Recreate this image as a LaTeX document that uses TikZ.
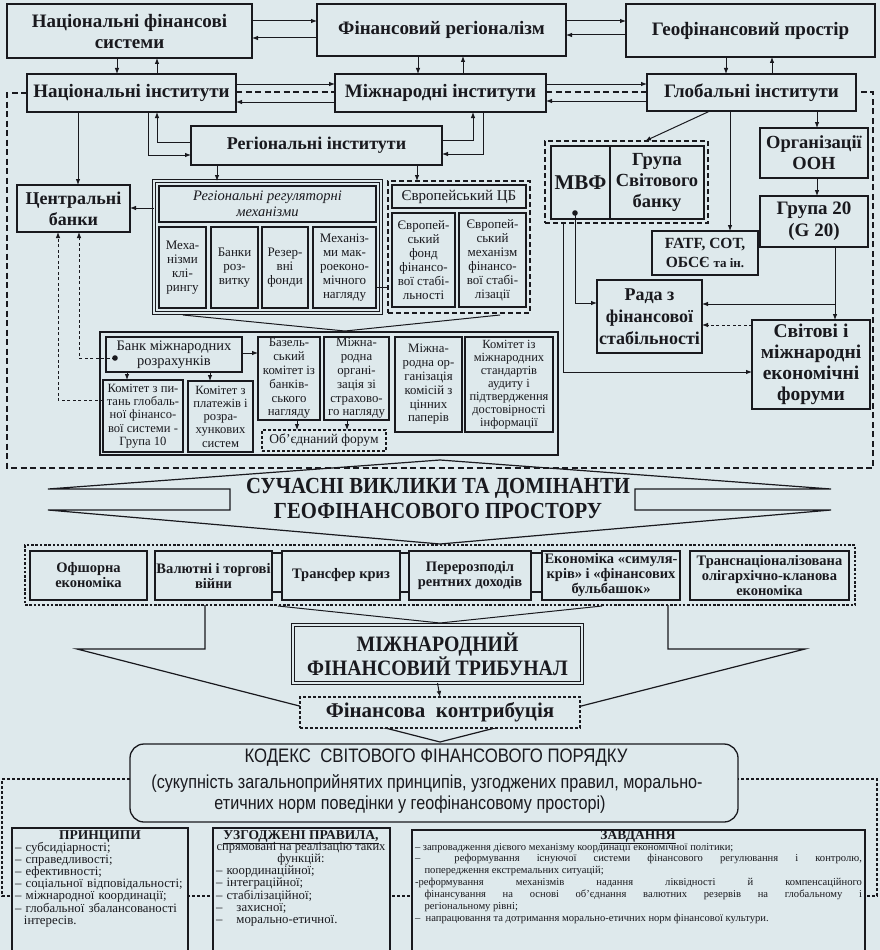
\documentclass[tikz,border=0pt]{standalone}
\usepackage{fontspec}
\setmainfont{Liberation Serif}
\newfontfamily\lsans{Liberation Sans}
\newfontfamily\nsans[FakeStretch=0.86]{Liberation Sans}
\newfontfamily\nserif[FakeStretch=0.9]{Liberation Serif}
\usetikzlibrary{arrows.meta}
\definecolor{bg}{RGB}{222,233,236}
\definecolor{ink}{RGB}{25,25,30}
\newcommand\fs[2]{\fontsize{#1}{#2}\selectfont}
\newcommand\Bx[7]{\node[#6, minimum width={(#4-#2)*1pt}, minimum height={(#5-#3)*1pt}] (#1) at ({(#2+#4)/2},{(#3+#5)/2}) {#7};}
\begin{document}
\begin{tikzpicture}[x=1pt,y=-1pt,
  every node/.style={inner sep=0pt,outer sep=0pt,align=center,text=ink},
  bx/.style={draw=ink,line width=1.4pt,fill=bg},
  h1/.style={bx,font=\bfseries\fs{19}{21}},
  sm/.style={draw=ink,line width=1.1pt,fill=bg,font=\fs{13}{14}},
  dbox/.style={draw=ink,line width=1.2pt,dash pattern=on 5pt off 3pt,fill=bg},
  fbox/.style={draw=ink,line width=1.1pt,dash pattern=on 3pt off 2pt,fill=bg},
  ln/.style={draw=ink,line width=1pt},
  arr/.style={ln,-{Latex[length=6pt,width=4.6pt]}},
  dfr/.style={draw=ink,line width=1.2pt,dash pattern=on 6pt off 3.5pt},
  fdash/.style={dash pattern=on 3pt off 2.5pt},
  sb/.style={draw=ink,line width=1.3pt,fill=bg,font=\bfseries\fs{14.5}{15}},
  lst/.style={anchor=north west,align=left,font=\fs{12.8}{12.2}},
]
\fill[bg] (0,0) rectangle (880,950);
\useasboundingbox (0,0) rectangle (880,950);
\clip (0,0) rectangle (880,950);

% big shapes underneath
\draw[ln] (183,315) -- (345,331) -- (500,315);
\draw[ln,line width=1.2pt] (48,489) -- (440,460) -- (831,489) -- (635,489) -- (635,510) -- (831,510) -- (440,544) -- (48,510) -- (230,510) -- (230,489) -- cycle;
\draw[ln,line width=1.2pt] (205,605) -- (205,649) -- (77,649) -- (440,742) -- (805,649) -- (668,649) -- (668,605);
\draw[ln] (278,606) -- (440,623) -- (602,606);

% top rows
\Bx{nfs}{7}{4}{252}{58}{h1}{Національні фінансові\\системи}
\Bx{fr}{317}{4}{566}{56}{h1}{Фінансовий регіоналізм}
\Bx{gp}{626}{4}{875}{57}{h1}{Геофінансовий простір}
\Bx{ni}{27}{74}{236}{112}{h1}{Національні інститути}
\Bx{mi}{335}{74}{546}{112}{h1}{Міжнародні інститути}
\Bx{gi}{647}{74}{856}{111}{h1}{Глобальні інститути}
\Bx{ri}{191}{126}{442}{165}{bx,font=\bfseries\fs{18}{20}}{Регіональні інститути}
\Bx{cb}{17}{185}{130}{232}{bx,font=\bfseries\fs{18}{21}}{Центральні\\банки}

% regional block
\Bx{rmo}{154}{181}{381}{313}{draw=ink,double=bg,double distance=2.2pt,line width=0.9pt,fill=bg}{}
\Bx{rmt}{159}{186}{376}{222}{sm,font=\itshape\fs{14.5}{15.5}}{Регіональні регуляторні\\механізми}
\Bx{rm1}{159}{227}{206}{308}{sm}{Меха-\\нізми\\клі-\\рингу}
\Bx{rm2}{211}{227}{258}{308}{sm}{Банки\\роз-\\витку}
\Bx{rm3}{262}{227}{308}{308}{sm}{Резер-\\вні\\фонди}
\Bx{rm4}{313}{227}{376}{308}{sm}{Механіз-\\ми мак-\\роеконо-\\мічного\\нагляду}

% ECB block
\Bx{ecbo}{388}{181}{530}{313}{dbox}{}
\Bx{ecbt}{392}{185}{526}{208}{sm,font=\fs{15}{16}}{Європейський ЦБ}
\Bx{ecb1}{392}{213}{455}{307}{sm}{Європей-\\ський\\фонд\\фінансо-\\вої стабі-\\льності}
\Bx{ecb2}{459}{213}{526}{307}{sm}{Європей-\\ський\\механізм\\фінансо-\\вої стабі-\\лізації}

% IMF block and right column
\Bx{mvfo}{545}{141}{708}{223}{dbox}{}
\Bx{mvf}{551}{146}{610}{219}{bx,font=\bfseries\fs{21}{22}}{МВФ}
\Bx{wb}{610}{146}{704}{219}{bx,font=\bfseries\fs{18.5}{21}}{Група\\Світового\\банку}
\Bx{fatf}{652}{231}{758}{275}{bx,font=\bfseries\fs{15.5}{19}}{FATF, СОТ,\\ОБСЄ {\fs{13}{19}та ін.}}
\Bx{oon}{760}{128}{868}{178}{bx,font=\bfseries\fs{18.5}{21}}{Організації\\ООН}
\Bx{g20}{760}{196}{868}{247}{bx,font=\bfseries\fs{19}{22}}{Група 20\\(G 20)}
\Bx{rada}{597}{280}{702}{353}{bx,font=\bfseries\fs{18}{22}}{Рада з\\фінансової\\стабільності}
\Bx{swf}{752}{320}{870}{409}{bx,font=\bfseries\fs{19.5}{21}}{Світові і\\міжнародні\\економічні\\форуми}

% Basel block
\Bx{bso}{100}{332}{558}{455}{bx}{}
\Bx{bis}{106}{337}{242}{372}{sm,font=\fs{14.5}{15}}{Банк міжнародних\\розрахунків}
\Bx{cgfs}{103}{380}{183}{452}{sm,font=\fs{12.6}{13.3}}{Комітет з пи-\\тань глобаль-\\ної фінансо-\\вої системи -\\Група 10}
\Bx{cpss}{188}{381}{253}{452}{sm,font=\fs{12.6}{13.3}}{Комітет з\\платежів і\\розра-\\хункових\\систем}
\Bx{bcbs}{258}{337}{320}{420}{sm,font=\fs{12.8}{13.8}}{Базель-\\ський\\комітет із\\банків-\\ського\\нагляду}
\Bx{iais}{324}{337}{389}{420}{sm,font=\fs{12.8}{13.8}}{Міжна-\\родна\\органі-\\зація зі\\страхово-\\го нагляду}
\Bx{iosco}{395}{337}{462}{432}{sm,font=\fs{12.8}{13.8}}{Міжна-\\родна ор-\\ганізація\\комісій з\\цінних\\паперів}
\Bx{iaasb}{465}{337}{553}{432}{sm,font=\fs{12.5}{13}}{Комітет із\\міжнародних\\стандартів\\аудиту і\\підтвердження\\достовірності\\інформації}
\Bx{jf}{262}{430}{386}{451}{fbox,font=\fs{13.5}{14}}{Об’єднаний форум}
\coordinate (bdot) at (115,358);
\fill[ink] (bdot) circle (2.8pt);
\coordinate (mdot) at (575,213);
\fill[ink] (mdot) circle (2.8pt);

% connectors top
\draw[arr] (nfs.east |- 0,21) -- (fr.west |- 0,21);
\draw[arr] (fr.west |- 0,38) -- (nfs.east |- 0,38);
\draw[arr] (fr.east |- 0,21) -- (gp.west |- 0,21);
\draw[arr] (gp.west |- 0,35) -- (fr.east |- 0,35);
\draw[arr] (nfs.south -| 117,0) -- (ni.north -| 117,0);
\draw[arr] (ni.north -| 157,0) -- (nfs.south -| 157,0);
\draw[arr] (fr.south -| 418,0) -- (mi.north -| 418,0);
\draw[arr] (mi.north -| 463,0) -- (fr.south -| 463,0);
\draw[arr] (gp.south -| 726,0) -- (gi.north -| 726,0);
\draw[arr] (gi.north -| 772,0) -- (gp.south -| 772,0);
\draw[arr] (ni.east |- 0,84) -- (mi.west |- 0,84);
\draw[arr] (mi.west |- 0,102) -- (ni.east |- 0,102);
\draw[dfr] (ni.east |- 0,92) -- (mi.west |- 0,92);
\draw[arr] (mi.east |- 0,84) -- (gi.west |- 0,84);
\draw[arr] (gi.west |- 0,101) -- (mi.east |- 0,101);
\draw[dfr] (mi.east |- 0,92) -- (gi.west |- 0,92);
\draw[dfr] (ni.west |- 0,93) -- (7,93) -- (7,468) -- (873,468) -- (873,92) -- (gi.east |- 0,92);
\draw[arr] (ri.west |- 0,142) -| (ni.south -| 157,0);
\draw[arr] (ni.south -| 148,0) |- (ri.west |- 0,155);
\draw[arr] (ri.east |- 0,140) -| (mi.south -| 473,0);
\draw[arr] (mi.south -| 483,0) |- (ri.east |- 0,154);
\draw[arr] (ni.south -| 78,0) -- (cb.north -| 78,0);
\draw[arr] (ri.south -| 217,0) -- (rmo.north -| 217,0);
\draw[arr] (ri.south -| 417,0) -- (ecbo.north -| 417,0);
\draw[arr] (rmo.west |- 0,208) -- (cb.east |- 0,208);
\draw[ln] (rm4.east |- 0,287) -- (ecbo.west |- 0,287);
\draw[arr] (gi.south -| 710,0) -- (mvfo.north -| 645,0);
\draw[arr] (gi.south -| 730,0) -- (fatf.north -| 730,0);
\draw[arr] (gi.south -| 817,0) -- (oon.north -| 817,0);
\draw[arr] (oon.south -| 817,0) -- (g20.north -| 817,0);
\draw[arr] (g20.south -| 835,0) |- (rada.east |- 0,304);
\draw[arr] (g20.south -| 835,0) -- (swf.north -| 835,0);
\draw[arr] (mdot) |- (rada.west |- 0,303);
\draw[arr,fdash] (swf.west |- 0,325) -- (rada.east |- 0,325);
\draw[arr] (mvfo.south -| 563,0) |- (swf.west |- 0,372);
\draw[arr] (bis.east |- 0,353) -- (bcbs.west |- 0,353);
\draw[arr] (bis.south -| 127,0) -- (cgfs.north -| 127,0);
\draw[arr] (bis.south -| 210,0) -- (cpss.north -| 210,0);
\draw[arr] (bcbs.south -| 297,0) -- (jf.north -| 297,0);
\draw[arr] (iais.south -| 347,0) -- (jf.north -| 347,0);
\draw[arr,fdash] (bdot) -| (cb.south -| 79,0);
\draw[arr,fdash] (cgfs.west |- 0,400) -| (cb.south -| 58,0);

% challenges
\node[font=\nserif\bfseries\fs{23}{25}] (t1) at (438,488) {СУЧАСНІ ВИКЛИКИ ТА ДОМІНАНТИ};
\node[font=\nserif\bfseries\fs{23}{25}] (t2) at (438,511) {ГЕОФІНАНСОВОГО ПРОСТОРУ};
\Bx{sfr}{25}{545}{855}{605}{draw=ink,line width=1.1pt,dash pattern=on 2.5pt off 1.8pt,fill=bg}{}
\Bx{b1}{30}{551}{147}{600}{sb}{Офшорна\\економіка}
\Bx{b2}{155}{551}{272}{600}{sb}{Валютні і торгові\\війни}
\Bx{b3}{282}{551}{400}{600}{sb}{Трансфер криз}
\Bx{b4}{409}{551}{531}{600}{sb}{Перерозподіл\\рентних доходів}
\Bx{b5}{542}{551}{680}{600}{sb}{Економіка «симуля-\\крів» і «фінансових\\бульбашок»}
\Bx{b6}{690}{551}{849}{600}{sb}{Транснаціоналізована\\олігархічно-кланова\\економіка}
\draw[ln,line width=1.1pt] (b2.east |- 0,553) rectangle (b3.west |- 0,592);
\draw[ln,line width=1.1pt] (b3.east |- 0,553) rectangle (b4.west |- 0,592);
\draw[ln,line width=1.1pt] (b4.east |- 0,553) rectangle (b5.west |- 0,592);

% tribunal
\Bx{mft}{293}{625}{582}{683}{draw=ink,double=bg,double distance=2pt,line width=1.1pt,fill=bg,font=\nserif\bfseries\fs{22}{22}}{МІЖНАРОДНИЙ\\ФІНАНСОВИЙ ТРИБУНАЛ}
\Bx{fk}{300}{697}{580}{728}{fbox,font=\bfseries\fs{21}{22}}{Фінансова\ \ контрибуція}
\draw[arr] (mft.south) -- (fk.north);
\Bx{kod}{130}{744}{738}{822}{draw=ink,line width=1.3pt,rounded corners=14pt,fill=bg}{}
\node[font=\nsans\fs{19.5}{21}] (kt0) at (436,758) {КОДЕКС\ \ СВІТОВОГО ФІНАНСОВОГО ПОРЯДКУ};
\node[font=\nsans\fs{18.8}{21}] (kt1) at (427,783) {(сукупність загальноприйнятих принципів, узгоджених правил, морально-};
\node[font=\nsans\fs{18.8}{21}] (kt2) at (410,805) {етичних норм поведінки у геофінансовому просторі)};
\draw[dfr,dash pattern=on 3pt off 2pt] (kod.west |- 0,779) -- (2,779) -- (2,896) -- (877,896) -- (877,779) -- (kod.east |- 0,779);

% bottom boxes
\Bx{pr}{12}{828}{188}{960}{bx}{}
\Bx{uz}{213}{828}{390}{960}{bx}{}
\Bx{zv}{412}{830}{865}{960}{bx}{}
\node[font=\bfseries\fs{13.5}{14}] (prh) at (100,837) {ПРИНЦИПИ};
\node[lst,text width=172pt] (prl) at (15,842) {– субсидіарності;\\– справедливості;\\– ефективності;\\– соціальної відповідальності;\\– міжнародної координації;\\– глобальної збалансованості\\\hspace*{0.7em}інтересів.};
\node[font=\bfseries\fs{13.5}{14}] (uzh) at (301,837) {\underline{УЗГОДЖЕНІ ПРАВИЛА,}};
\node[font=\fs{12.5}{12.2}] (uzs) at (301,854) {спрямовані на реалізацію таких\\функцій:};
\node[lst,text width=172pt] (uzl) at (216,866) {– координаційної;\\– інтеграційної;\\– стабілізаційної;\\–\hspace{1.1em}захисної;\\–\hspace{1.1em}морально-етичної.};
\node[font=\bfseries\fs{13.5}{14}] (zvh) at (638,837) {\underline{ЗАВДАННЯ}};
\node[anchor=north west,text width=447pt,align=justify,font=\fs{10.6}{11.9}] (zvl) at (415,843) {%
\hangindent=0.9em\hangafter=1 – запровадження дієвого механізму координації економічної політики;\par
\hangindent=0.9em\hangafter=1 –\ \ реформування існуючої системи фінансового регулювання і контролю,\linebreak попередження екстремальних ситуацій;\par
\hangindent=0.9em\hangafter=1 -реформування механізмів надання ліквідності й компенсаційного\linebreak фінансування на основі об’єднання валютних резервів на глобальному і\linebreak регіональному рівні;\par
\hangindent=0.9em\hangafter=1 –\ \ напрацювання та дотримання морально-етичних норм фінансової культури.};
\end{tikzpicture}
\end{document}
